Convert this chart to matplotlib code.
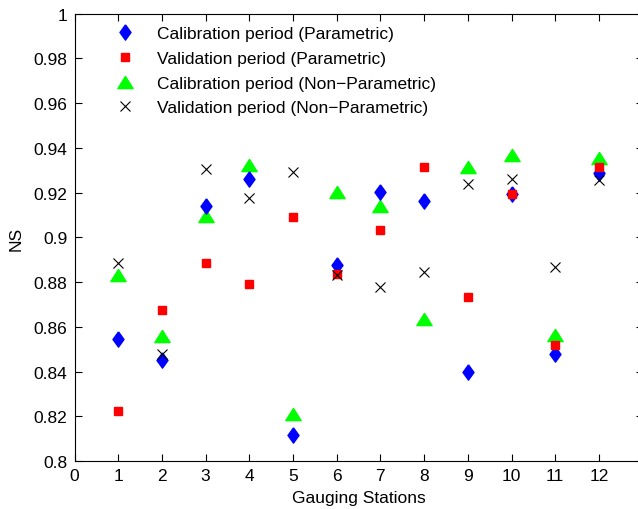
import numpy as np
import matplotlib
matplotlib.use('Agg')
import matplotlib.pyplot as plt
from matplotlib.ticker import FuncFormatter

plt.rcParams['font.family'] = ['Liberation Sans', 'DejaVu Sans']

stations = [1, 2, 3, 4, 5, 6, 7, 8, 9, 10, 11, 12]
cal_par = [0.8548, 0.8453, 0.9140, 0.9262, 0.8119, 0.8875, 0.9203, 0.9164, 0.8400, 0.9195, 0.8481, 0.9289]
val_par = [0.8223, 0.8674, 0.8887, 0.8793, 0.9092, 0.8835, 0.9034, 0.9314, 0.8732, 0.9195, 0.8518, 0.9317]
cal_np = [0.8833, 0.8558, 0.9098, 0.9326, 0.8213, 0.9205, 0.9140, 0.8634, 0.9317, 0.9369, 0.8566, 0.9354]
val_np = [0.8886, 0.8481, 0.9307, 0.9176, 0.9292, 0.8833, 0.8779, 0.8844, 0.9238, 0.9259, 0.8866, 0.9258]

# matlab-like marker shapes
diamond = [(0, 1), (0.72, 0), (0, -1), (-0.72, 0), (0, 1)]
triangle = [(0, 0.8), (1, -0.8), (-1, -0.8), (0, 0.8)]

W, H = 638, 510
fig = plt.figure(figsize=(W / 100, H / 100), dpi=100)
# axes run a bit past the right edge (cropped like the original)
x0, y0 = 74.5, 462.2
unit = 43.7
ax = fig.add_axes([x0 / W, (H - y0) / H, 13 * unit / W, (y0 - 14.7) / H])

ax.plot(stations, cal_par, linestyle='none', marker=diamond, ms=11,
        color='#0000ff', mec='#0000ff', zorder=3, label='Calibration period (Parametric)')
ax.plot(stations, val_par, linestyle='none', marker='s', ms=5.8,
        color='#ff0000', mec='#ff0000', zorder=4, label='Validation period (Parametric)')
ax.plot(stations, cal_np, linestyle='none', marker=triangle, ms=11,
        color='#00ff00', mec='#00ff00', zorder=2, label='Calibration period (Non\u2212Parametric)')
ax.plot(stations, val_np, linestyle='none', marker='x', ms=6.5, mew=0.8,
        color='black', zorder=5, label='Validation period (Non\u2212Parametric)')

ax.set_xlim(0, 13)
ax.set_ylim(0.8, 1.0)
ax.set_xticks(range(0, 14))
ax.set_xticklabels([str(i) for i in range(0, 13)] + [''])
ax.set_yticks(np.linspace(0.8, 1.0, 11))
ax.yaxis.set_major_formatter(FuncFormatter(lambda v, p: ('%.2f' % v).rstrip('0').rstrip('.')))
ax.tick_params(direction='in', top=True, right=True, length=5, width=0.8,
               labelsize=12.5, pad=5)
for s in ax.spines.values():
    s.set_linewidth(0.8)

ax.set_xlabel('Gauging Stations', fontsize=12.5, labelpad=5)
ax.set_ylabel('NS', fontsize=12.5, labelpad=7)

ax.legend(loc='upper left', bbox_to_anchor=(0.033, 1.005), frameon=False,
          fontsize=12.5, handletextpad=0.85, labelspacing=0.55, borderaxespad=0.45)

fig.savefig('out.png', dpi=100)
